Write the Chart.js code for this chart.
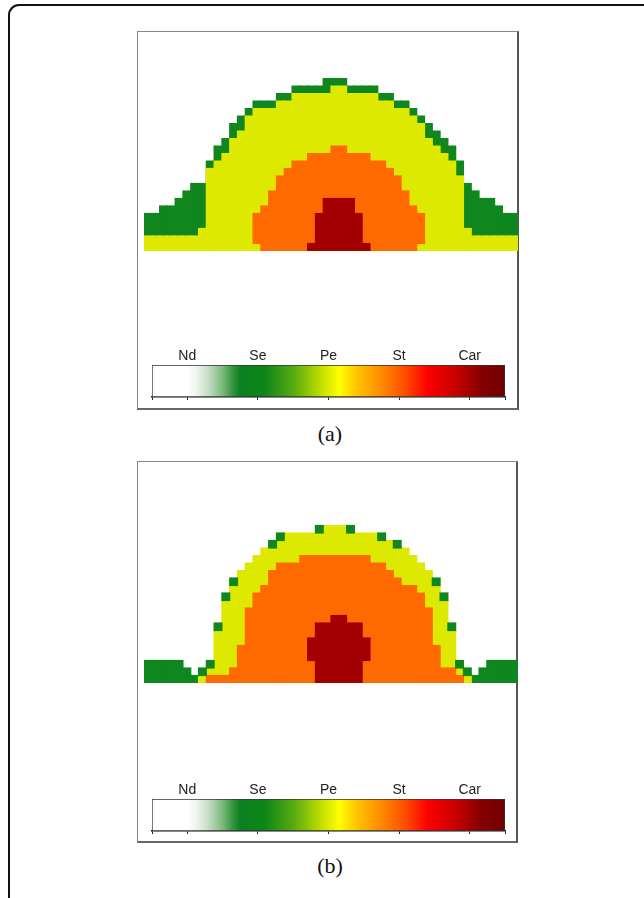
<!DOCTYPE html>
<html>
<head>
<meta charset="utf-8">
<script src="https://cdn.jsdelivr.net/npm/chart.js@4.4.1/dist/chart.umd.min.js"></script>
<style>
  html, body { margin: 0; padding: 0; background: #fff; }
  body { width: 644px; height: 898px; position: relative; overflow: hidden; }
  .outer { position: absolute; left: 8px; top: 4px; width: 700px; height: 960px;
           border-left: 2px solid #111; border-top: 2px solid #111; border-top-left-radius: 11px; }
  .frame { position: absolute; box-sizing: border-box; border: 1px solid #888;
           border-right: 2px solid #555; border-bottom: 2px solid #666; }
  canvas { position: absolute; }
  .cap { position: absolute; width: 80px; text-align: center; line-height: 26px;
         font-family: "Liberation Serif", "Times New Roman", serif; font-size: 22px; color: #111; }
</style>
</head>
<body>
<div class="outer"></div>

<div class="frame" style="left:137px; top:31px; width:382px; height:379px;"></div>
<canvas id="heatA" width="374" height="210" style="left:144px; top:41px;"></canvas>
<canvas id="barA" width="380" height="70" style="left:140px; top:340px;"></canvas>
<div class="cap" style="left:290px; top:421px;">(a)</div>

<div class="frame" style="left:137px; top:461px; width:381px; height:382px;"></div>
<canvas id="heatB" width="374" height="210" style="left:144px; top:473px;"></canvas>
<canvas id="barB" width="380" height="70" style="left:140px; top:774px;"></canvas>
<div class="cap" style="left:290px; top:853px;">(b)</div>

<script>
// grid: 48 columns, 28 rows (counted from the bottom)
const nCols = 48;
const nRows = 28;
const columns = [...Array(nCols).keys()];

// ---- panel (a) ----
const aGreenTop  = [5,5,6,6,7,8,9,9,12,14,15,17,18,19,20,20,20,21,21,22,22,22,22,23,23,23,22,22,22,22,21,21,20,20,19,18,17,16,15,14,12,9,8,7,7,6,5,5];
const aYellowTop = [2,2,2,2,2,2,2,3,11,12,13,15,16,18,19,19,19,20,20,21,21,21,21,21,22,22,21,21,21,21,20,20,19,19,18,17,15,14,13,12,10,3,2,2,2,2,2,2];
const aOrangeFrom   = 14;
const aOrangeBottom = [1,0,0,0,0,0,0,0,0,0,0,0,0,0,0,0,0,0,0,0,0,1];
const aOrangeTop    = [5,6,8,10,11,12,12,13,13,13,14,14,13,13,13,12,12,11,10,8,6,5];
const aRedFrom   = 21;
const aRedBottom = [0,0,0,0,0,0,0,0];
const aRedTop    = [1,5,7,7,7,7,5,1];

// ---- panel (b) ----
const bGreenLeft  = [3,3,3,3,3,2,1];       // from column 0
const bGreenRight = [1,2,3,3,3,3];         // from column 42
const bYellowFrom = 7;
const bYellowTop  = [1,2,7,11,13,15,16,17,18,18,19,20,20,20,20,20,21,21,21,20,20,20,20,19,19,18,18,17,16,15,13,11,7,2,1];
const bOrangeFrom = 8;
const bOrangeTop  = [1,1,1,2,5,10,12,13,15,16,16,16,17,17,17,17,17,17,17,17,17,16,16,15,14,13,13,12,10,5,2,2,1];
const bRedFrom   = 21;
const bRedBottom = [3,0,0,0,0,0,0,3];
const bRedTop    = [6,8,8,9,9,8,8,6];
const bDotCols = [7,8,9,10,11,16,17,22,26,30,32,37,38,39,40,41];
const bDotRows = [1,2,7,11,13,18,19,20,20,19,18,13,11,7,2,1];

// ---- colour scale ----
const scaleNames = ['Nd', 'Se', 'Pe', 'St', 'Car'];
const scaleTicks = [-0.5, 0, 1, 2, 3, 4, 4.5];

const zoneColor = { green: '#10871e', yellow: '#dde900', orange: '#ff6a00', red: '#a20000' };
const gradientStops = [
  [0, '#ffffff'], [0.10, '#ffffff'], [0.125, '#eef4ee'], [0.15, '#d2e5d2'], [0.175, '#a9cfaa'],
  [0.20, '#7ab97c'], [0.225, '#3f9945'], [0.25, '#0b7f22'], [0.32, '#0e8618'], [0.40, '#55aa10'],
  [0.47, '#b4d800'], [0.53, '#ffff00'], [0.58, '#ffc400'], [0.65, '#ff8a00'], [0.72, '#ff4a00'],
  [0.78, '#ff0000'], [0.86, '#c80000'], [0.93, '#880000'], [1, '#700000']
];

// place a run of values on the column grid
function place(from, vals) {
  const out = new Array(nCols).fill(null);
  vals.forEach((v, i) => { out[from + i] = v; });
  return out;
}
function ranges(bottoms, tops) {
  return tops.map((t, i) => (t == null ? null : [bottoms[i] == null ? 0 : bottoms[i], t]));
}
function zone(data, color, order) {
  return { data, backgroundColor: color, order, grouped: false, inflateAmount: 0.6,
           barPercentage: 1, categoryPercentage: 1, borderWidth: 0 };
}

function heatmap(id, datasets) {
  new Chart(document.getElementById(id), {
    type: 'bar',
    data: { labels: columns, datasets },
    options: {
      responsive: false, animation: false, events: [],
      layout: { padding: 0 },
      plugins: { legend: { display: false }, tooltip: { enabled: false } },
      scales: {
        x: { display: false },
        y: { display: false, min: 0, max: nRows }
      }
    }
  });
}

const zeros = new Array(nCols).fill(0);

heatmap('heatA', [
  zone(ranges(place(aRedFrom, aRedBottom), place(aRedFrom, aRedTop)), zoneColor.red, 1),
  zone(ranges(place(aOrangeFrom, aOrangeBottom), place(aOrangeFrom, aOrangeTop)), zoneColor.orange, 2),
  zone(ranges(zeros, aYellowTop), zoneColor.yellow, 3),
  zone(ranges(zeros, aGreenTop), zoneColor.green, 4)
]);

const bGreenTop = place(0, bGreenLeft);
bGreenRight.forEach((v, i) => { bGreenTop[42 + i] = v; });
const bDots = new Array(nCols).fill(null);
bDotCols.forEach((c, i) => { bDots[c] = [bDotRows[i], bDotRows[i] + 1]; });

heatmap('heatB', [
  zone(bDots, zoneColor.green, 0),
  zone(ranges(place(bRedFrom, bRedBottom), place(bRedFrom, bRedTop)), zoneColor.red, 1),
  zone(ranges(zeros, place(bOrangeFrom, bOrangeTop)), zoneColor.orange, 2),
  zone(ranges(zeros, place(bYellowFrom, bYellowTop)), zoneColor.yellow, 3),
  zone(ranges(zeros, bGreenTop), zoneColor.green, 4)
]);

function scaleGradient(chart) {
  const area = chart.chartArea;
  if (!area) return '#ccc';
  const g = chart.ctx.createLinearGradient(area.left, 0, area.right, 0);
  gradientStops.forEach(s => g.addColorStop(s[0], s[1]));
  return g;
}

function colourBar(id) {
  const setTicks = axis => { axis.ticks = scaleTicks.map(v => ({ value: v })); };
  new Chart(document.getElementById(id), {
    type: 'bar',
    data: {
      labels: [''],
      datasets: [{
        data: [[scaleTicks[0], scaleTicks[scaleTicks.length - 1]]],
        backgroundColor: ctx => scaleGradient(ctx.chart),
        borderColor: '#333', borderWidth: 1, borderSkipped: false,
        barPercentage: 1, categoryPercentage: 1
      }]
    },
    options: {
      indexAxis: 'y', responsive: false, animation: false, events: [],
      layout: { padding: { left: 12, right: 15, top: 0, bottom: 0 } },
      plugins: { legend: { display: false }, tooltip: { enabled: false } },
      scales: {
        y: { display: false },
        xTop: {
          position: 'top', min: -0.5, max: 4.5,
          afterBuildTicks: setTicks,
          afterFit: s => { s.height = 25; },
          grid: { display: false, drawTicks: false },
          border: { display: false },
          ticks: {
            padding: 0, color: '#222', maxRotation: 0, autoSkip: false,
            font: { family: '"Liberation Sans", Arial, sans-serif', size: 14 },
            callback: v => (Number.isInteger(v) ? scaleNames[v] : '')
          }
        },
        x: {
          position: 'bottom', min: -0.5, max: 4.5,
          afterBuildTicks: setTicks,
          afterFit: s => { s.height = 13; },
          grid: { drawOnChartArea: false, tickLength: 3, color: '#222' },
          border: { color: '#111', width: 1.5 },
          ticks: { display: false }
        }
      }
    }
  });
}

colourBar('barA');
colourBar('barB');
</script>
</body>
</html>
